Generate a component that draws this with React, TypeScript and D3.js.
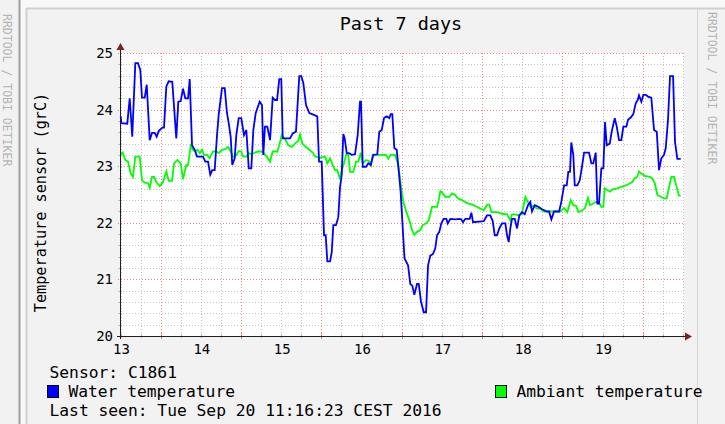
import React from 'react'
import * as d3 from 'd3'

// chart texts
const title = 'Past 7 days'
const yTitle = 'Temperature sensor (grC)'
const sensorLine = 'Sensor: C1861'
const lastSeenLine = 'Last seen: Tue Sep 20 11:16:23 CEST 2016'
const watermark = 'RRDTOOL / TOBI OETIKER'

// x axis: day of september, labels sit at noon
const dayLabels = [13, 14, 15, 16, 17, 18, 19]
const timeDomain = [13.4933, 20.514]
const yTicks = [20, 21, 22, 23, 24, 25]

const seriesNames = ['Water temperature', 'Ambiant temperature']
const seriesColors = ['#0000ff', '#00ff00']

// [day of month, temperature]
const waterSeries = [
  [13.502, 23.88], [13.510, 23.76], [13.584, 23.75], [13.614, 24.20], [13.646, 23.52], [13.684, 24.82], [13.717, 24.82],
  [13.746, 24.70], [13.767, 24.21], [13.801, 24.21], [13.826, 24.44], [13.863, 23.46], [13.892, 23.59], [13.925, 23.59],
  [13.950, 23.52], [13.975, 23.62], [14.020, 23.68], [14.041, 23.68], [14.070, 24.41], [14.100, 24.50], [14.144, 24.49],
  [14.194, 23.49], [14.219, 24.14], [14.249, 24.15], [14.278, 24.37], [14.306, 24.20], [14.340, 24.20], [14.361, 24.54],
  [14.390, 23.37], [14.423, 23.29], [14.452, 23.17], [14.527, 23.17], [14.555, 23.08], [14.589, 23.08], [14.617, 22.85],
  [14.642, 22.93], [14.672, 22.93], [14.701, 23.55], [14.722, 23.91], [14.763, 24.38], [14.797, 24.38], [14.825, 23.94],
  [14.850, 23.73], [14.871, 23.52], [14.891, 23.02], [14.921, 23.14], [14.941, 23.55], [14.971, 23.85], [15.003, 23.85],
  [15.037, 23.55], [15.066, 23.64], [15.096, 22.96], [15.128, 22.96], [15.153, 23.64], [15.183, 23.94], [15.232, 24.14],
  [15.261, 24.08], [15.277, 23.20], [15.298, 23.70], [15.327, 23.70], [15.361, 23.46], [15.394, 24.21], [15.423, 24.17],
  [15.448, 24.17], [15.476, 24.54], [15.501, 24.54], [15.519, 23.49], [15.610, 23.49], [15.643, 23.58], [15.684, 23.61],
  [15.725, 24.59], [15.750, 24.59], [15.775, 24.47], [15.809, 24.08], [15.850, 23.94], [15.900, 23.91], [15.949, 23.88],
  [15.971, 23.08], [16.004, 23.08], [16.033, 21.78], [16.054, 21.78], [16.074, 21.32], [16.108, 21.32], [16.129, 21.48],
  [16.149, 21.96], [16.182, 21.96], [16.211, 22.10], [16.232, 22.63], [16.253, 22.84], [16.273, 23.57], [16.290, 23.49],
  [16.316, 23.23], [16.344, 23.23], [16.378, 23.20], [16.419, 23.21], [16.452, 23.55], [16.481, 24.14], [16.493, 24.14],
  [16.515, 22.99], [16.556, 22.99], [16.584, 23.05], [16.614, 23.02], [16.647, 23.20], [16.696, 23.21], [16.721, 23.61],
  [16.751, 23.64], [16.780, 23.85], [16.813, 23.88], [16.846, 23.85], [16.863, 23.92], [16.883, 23.92], [16.908, 23.32],
  [16.938, 23.29], [16.985, 22.58], [17.035, 21.37], [17.079, 21.25], [17.107, 20.92], [17.132, 20.89], [17.157, 20.73],
  [17.191, 20.92], [17.212, 20.92], [17.240, 20.61], [17.274, 20.42], [17.303, 20.42], [17.328, 21.25], [17.356, 21.42],
  [17.390, 21.45], [17.418, 21.55], [17.440, 21.78], [17.468, 21.84], [17.493, 21.99], [17.523, 22.07], [17.556, 22.07],
  [17.573, 21.99], [17.605, 22.07], [17.672, 22.06], [17.717, 22.07], [17.742, 22.06], [17.763, 22.01], [17.792, 22.07],
  [17.847, 22.07], [17.867, 22.18], [17.888, 22.01], [18.021, 22.03], [18.062, 22.13], [18.103, 22.13], [18.133, 22.03],
  [18.158, 21.78], [18.186, 21.78], [18.215, 21.90], [18.249, 21.99], [18.290, 21.99], [18.311, 21.78], [18.332, 21.66],
  [18.352, 21.90], [18.373, 22.07], [18.407, 22.07], [18.436, 21.90], [18.464, 22.13], [18.498, 22.19], [18.531, 22.15],
  [18.572, 22.31], [18.601, 22.37], [18.622, 22.20], [18.656, 22.31], [18.706, 22.28], [18.747, 22.24], [18.809, 22.20],
  [18.834, 22.20], [18.863, 22.06], [18.896, 22.20], [18.959, 22.20], [18.987, 22.37], [19.021, 22.66], [19.054, 22.66],
  [19.074, 22.90], [19.095, 22.90], [19.111, 23.42], [19.136, 23.20], [19.154, 22.66], [19.186, 22.66], [19.216, 22.75],
  [19.241, 22.96], [19.270, 23.24], [19.332, 23.24], [19.361, 23.05], [19.385, 23.05], [19.415, 23.24], [19.435, 22.34],
  [19.456, 22.34], [19.485, 22.96], [19.510, 22.96], [19.531, 23.78], [19.552, 23.37], [19.590, 23.40], [19.614, 23.61],
  [19.652, 23.85], [19.677, 23.70], [19.705, 23.46], [19.734, 23.46], [19.759, 23.70], [19.797, 23.70], [19.817, 23.82],
  [19.851, 23.86], [19.883, 23.92], [19.913, 24.11], [19.938, 24.17], [19.954, 24.25], [19.983, 24.14], [20.008, 24.26],
  [20.038, 24.26], [20.066, 24.23], [20.107, 24.21], [20.141, 23.64], [20.175, 23.61], [20.203, 22.93], [20.232, 23.14],
  [20.265, 23.20], [20.287, 23.32], [20.315, 23.82], [20.340, 24.59], [20.378, 24.59], [20.402, 23.43], [20.431, 23.13],
  [20.473, 23.13],
]

const ambientSeries = [
  [13.502, 23.21], [13.527, 23.24], [13.559, 23.11], [13.593, 23.08], [13.627, 22.87], [13.655, 22.81], [13.684, 23.17],
  [13.739, 23.17], [13.767, 22.75], [13.801, 22.71], [13.842, 22.70], [13.863, 22.62], [13.892, 22.81], [13.917, 22.81],
  [13.945, 22.72], [13.988, 22.65], [14.029, 22.72], [14.070, 22.91], [14.100, 22.74], [14.141, 22.74], [14.166, 23.05],
  [14.207, 23.11], [14.249, 23.05], [14.278, 22.77], [14.319, 23.02], [14.340, 23.02], [14.373, 23.36], [14.402, 23.29],
  [14.431, 23.26], [14.456, 23.29], [14.486, 23.23], [14.514, 23.29], [14.539, 23.20], [14.580, 23.20], [14.610, 23.14],
  [14.630, 23.20], [14.651, 23.26], [14.692, 23.26], [14.722, 23.23], [14.763, 23.29], [14.804, 23.30], [14.838, 23.34],
  [14.871, 23.26], [14.900, 23.17], [14.929, 23.17], [14.971, 23.27], [15.003, 23.26], [15.025, 23.17], [15.066, 23.17],
  [15.096, 23.23], [15.137, 23.21], [15.170, 23.24], [15.220, 23.26], [15.265, 23.26], [15.320, 23.17], [15.361, 23.08],
  [15.394, 23.26], [15.452, 23.26], [15.476, 23.37], [15.506, 23.55], [15.547, 23.48], [15.589, 23.37], [15.631, 23.34],
  [15.672, 23.40], [15.713, 23.45], [15.734, 23.56], [15.763, 23.40], [15.809, 23.34], [15.850, 23.29], [15.892, 23.24],
  [15.921, 23.17], [15.983, 23.15], [16.045, 23.17], [16.074, 23.05], [16.108, 23.14], [16.141, 23.02], [16.170, 22.93],
  [16.198, 22.93], [16.232, 22.77], [16.253, 22.93], [16.282, 23.05], [16.307, 23.20], [16.335, 23.20], [16.357, 22.90],
  [16.398, 22.90], [16.431, 23.08], [16.460, 23.08], [16.490, 23.24], [16.515, 23.05], [16.556, 23.11], [16.597, 23.09],
  [16.618, 23.02], [16.639, 23.20], [16.696, 23.20], [16.805, 23.20], [16.833, 23.13], [16.863, 23.20], [16.917, 23.20],
  [16.958, 23.02], [16.998, 22.57], [17.025, 22.34], [17.066, 22.16], [17.107, 21.99], [17.128, 21.87], [17.157, 21.79],
  [17.191, 21.84], [17.232, 21.87], [17.262, 21.96], [17.303, 21.99], [17.336, 22.04], [17.377, 22.28], [17.440, 22.28],
  [17.461, 22.40], [17.481, 22.56], [17.511, 22.52], [17.543, 22.46], [17.593, 22.46], [17.626, 22.52], [17.667, 22.49],
  [17.701, 22.43], [17.751, 22.40], [17.784, 22.37], [17.834, 22.34], [17.884, 22.32], [17.938, 22.28], [17.979, 22.25],
  [18.021, 22.22], [18.062, 22.32], [18.091, 22.32], [18.116, 22.19], [18.186, 22.19], [18.249, 22.16], [18.311, 22.15],
  [18.352, 22.04], [18.373, 22.15], [18.414, 22.15], [18.456, 22.13], [18.498, 22.16], [18.539, 22.46], [18.572, 22.36],
  [18.601, 22.28], [18.643, 22.30], [18.684, 22.25], [18.725, 22.25], [18.767, 22.20], [18.971, 22.20], [19.021, 22.26],
  [19.062, 22.19], [19.104, 22.40], [19.136, 22.31], [19.170, 22.30], [19.199, 22.19], [19.249, 22.22], [19.282, 22.26],
  [19.319, 22.44], [19.344, 22.31], [19.385, 22.34], [19.415, 22.37], [19.456, 22.36], [19.485, 22.28], [19.510, 22.28],
  [19.527, 22.61], [19.560, 22.58], [19.593, 22.55], [19.622, 22.59], [19.684, 22.61], [19.726, 22.63], [19.789, 22.66],
  [19.830, 22.69], [19.871, 22.72], [19.901, 22.79], [19.930, 22.81], [19.954, 22.91], [19.983, 22.87], [20.025, 22.83],
  [20.091, 22.81], [20.120, 22.78], [20.150, 22.70], [20.183, 22.49], [20.225, 22.46], [20.265, 22.43], [20.299, 22.43],
  [20.328, 22.63], [20.356, 22.81], [20.390, 22.81], [20.423, 22.63], [20.451, 22.48], [20.473, 22.48],
]

const FONT = 'DejaVu Sans Mono'
const GRID = 'rgba(150,150,150,0.55)'
const MGRID = 'rgba(235,70,70,0.65)'
const ARROW = '#801f1f'
const AXIS = '#1f1f1f'

export default function App() {
  const plot = { left: 120, right: 684, top: 53, bottom: 336 }

  const x = d3.scaleLinear().domain(timeDomain).range([plot.left, plot.right])
  const y = d3.scaleLinear().domain([20, 25]).range([plot.bottom, plot.top])

  const line = d3
    .line<number[]>()
    .x(d => x(d[0]))
    .y(d => y(d[1]))

  // 6 hour minor grid, daily major grid at midnight
  const minorX = d3.range(Math.ceil(timeDomain[0] * 4) / 4, timeDomain[1], 0.25).filter(d => d % 1 !== 0)
  const majorX = d3.range(Math.ceil(timeDomain[0]), timeDomain[1], 1)
  const minorY = d3.range(20.2, 25, 0.2).filter(v => Math.abs(v - Math.round(v)) > 0.01)
  const majorY = yTicks.filter(v => v > 20)

  return (
    <svg width={725} height={424} style={{ position: 'absolute', left: 0, top: 0, background: '#f8f8f8' }}>
      {/* frame pieces */}
      <rect x={0} y={0} width={19} height={424} fill="#f2f2f2" />
      <rect x={18.5} y={0} width={2} height={424} fill="#9e9e9e" />
      <rect x={26} y={8} width={699} height={416} fill="#f2f2f2" />
      <line x1={26.5} y1={8} x2={26.5} y2={424} stroke="#cfcfcf" strokeWidth={2} />
      <line x1={26} y1={8.5} x2={725} y2={8.5} stroke="#cfcfcf" strokeWidth={2} />
      <line x1={697.5} y1={9} x2={697.5} y2={424} stroke="#d6d6d6" />

      <text transform="translate(3,14) rotate(90)" fontFamily={FONT} fontSize={11.5} fill="#b4b4b4">{watermark}</text>
      <text transform="translate(707.5,12) rotate(90)" fontFamily={FONT} fontSize={11.5} fill="#b4b4b4">{watermark}</text>

      <text x={401} y={30} textAnchor="middle" fontFamily={FONT} fontSize={18.5} fill="#000">{title}</text>

      {/* canvas */}
      <rect x={plot.left} y={plot.top} width={plot.right - plot.left} height={plot.bottom - plot.top} fill="#fff" />

      <g strokeDasharray="1,2" strokeWidth={1}>
        {minorX.map(d => (
          <line key={'mx' + d} x1={Math.round(x(d)) + 0.5} x2={Math.round(x(d)) + 0.5} y1={plot.top} y2={plot.bottom} stroke={GRID} />
        ))}
        {minorY.map(v => (
          <line key={'my' + v} x1={plot.left} x2={plot.right} y1={Math.round(y(v)) + 0.5} y2={Math.round(y(v)) + 0.5} stroke={GRID} />
        ))}
        {majorX.map(d => (
          <line key={'Mx' + d} x1={Math.round(x(d)) + 0.5} x2={Math.round(x(d)) + 0.5} y1={plot.top} y2={plot.bottom} stroke={MGRID} />
        ))}
        {majorY.map(v => (
          <line key={'My' + v} x1={plot.left - 2} x2={plot.right} y1={Math.round(y(v)) + 0.5} y2={Math.round(y(v)) + 0.5} stroke={MGRID} />
        ))}
      </g>

      {/* axis ticks */}
      {minorX.map(d => (
        <line key={'tx' + d} x1={Math.round(x(d)) + 0.5} x2={Math.round(x(d)) + 0.5} y1={plot.bottom - 2} y2={plot.bottom + 2} stroke={GRID} />
      ))}
      {majorX.map(d => (
        <line key={'tX' + d} x1={Math.round(x(d)) + 0.5} x2={Math.round(x(d)) + 0.5} y1={plot.bottom - 3} y2={plot.bottom + 3} stroke={MGRID} />
      ))}
      {minorY.map(v => (
        <line key={'ty' + v} x1={plot.left - 2} x2={plot.left + 2} y1={Math.round(y(v)) + 0.5} y2={Math.round(y(v)) + 0.5} stroke={GRID} />
      ))}

      {/* series */}
      <path d={line(ambientSeries) ?? ''} fill="none" stroke={seriesColors[1]} strokeWidth={1.8} strokeLinejoin="miter" />
      <path d={line(waterSeries) ?? ''} fill="none" stroke={seriesColors[0]} strokeWidth={1.8} strokeLinejoin="miter" />

      {/* axes */}
      <line x1={plot.left - 3} x2={plot.right + 1} y1={plot.bottom + 0.5} y2={plot.bottom + 0.5} stroke={AXIS} />
      <line x1={plot.left + 0.5} x2={plot.left + 0.5} y1={plot.bottom + 3} y2={plot.top - 4} stroke={AXIS} />
      <path d={`M${plot.right + 1},${plot.bottom - 3.5} L${plot.right + 8},${plot.bottom + 0.5} L${plot.right + 1},${plot.bottom + 4.5} Z`} fill={ARROW} />
      <path d={`M${plot.left - 3.5},${plot.top - 3} L${plot.left + 0.5},${plot.top - 10} L${plot.left + 4.5},${plot.top - 3} Z`} fill={ARROW} />

      {yTicks.map(v => (
        <text key={'yl' + v} x={113} y={y(v) + 5} textAnchor="end" fontFamily={FONT} fontSize={14} fill="#000">{v}</text>
      ))}
      {dayLabels.map(d => (
        <text key={'xl' + d} x={x(d + 0.5) + 1} y={354} textAnchor="middle" fontFamily={FONT} fontSize={14} fill="#000">{d}</text>
      ))}

      <text transform="translate(46,202.5) rotate(-90)" textAnchor="middle" fontFamily={FONT} fontSize={15.2} fill="#000">{yTitle}</text>

      {/* legend */}
      <text x={49.5} y={378} fontFamily={FONT} fontSize={16.3} fill="#000">{sensorLine}</text>
      <rect x={47.5} y={385.5} width={11} height={12} fill={seriesColors[0]} stroke="#000" />
      <text x={68.4} y={397} fontFamily={FONT} fontSize={16.3} fill="#000">{seriesNames[0]}</text>
      <rect x={495.5} y={385.5} width={11} height={12} fill={seriesColors[1]} stroke="#000" />
      <text x={516.4} y={397} fontFamily={FONT} fontSize={16.3} fill="#000">{seriesNames[1]}</text>
      <text x={49.5} y={416} fontFamily={FONT} fontSize={16.3} fill="#000">{lastSeenLine}</text>
    </svg>
  )
}
